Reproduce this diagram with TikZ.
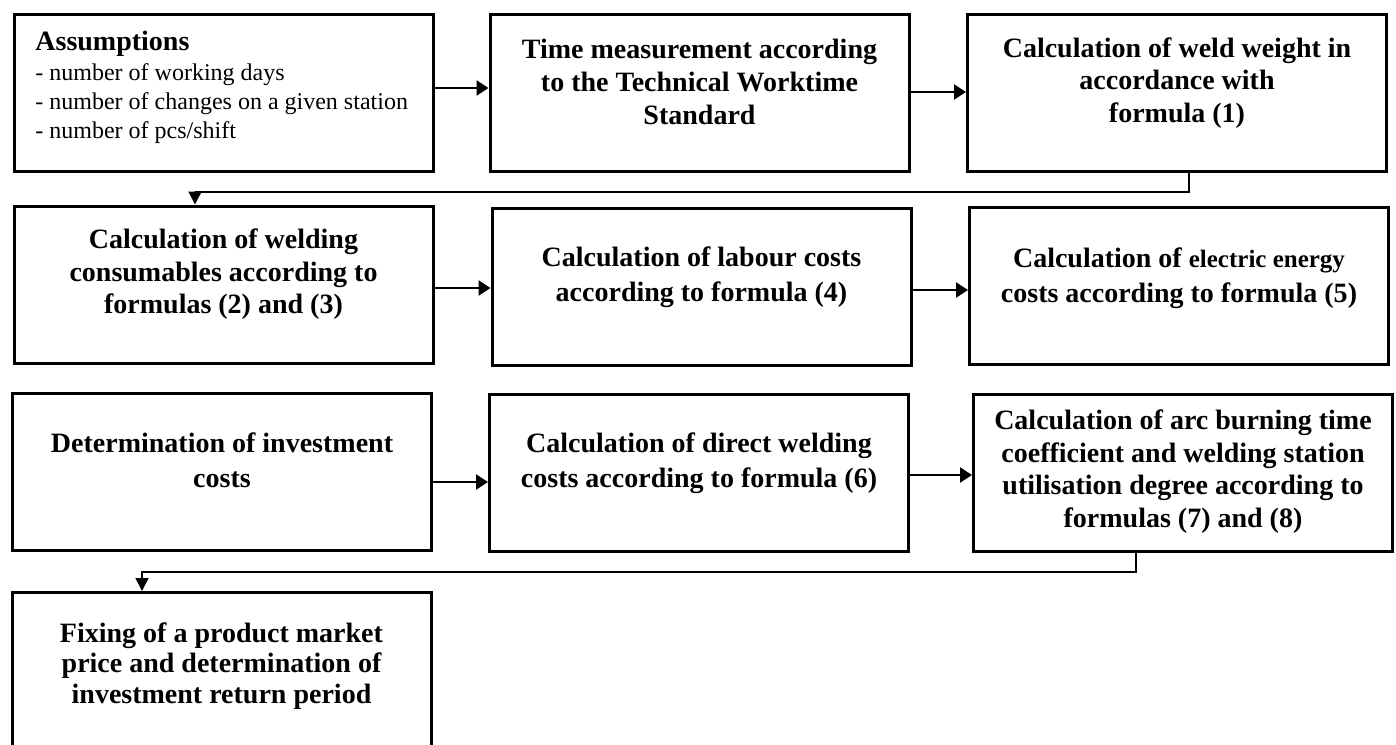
\documentclass[tikz,border=0pt]{standalone}
\usepackage{fontspec}
\setmainfont{Liberation Serif}
\usetikzlibrary{arrows.meta}
\begin{document}
\begin{tikzpicture}[x=0.5pt,y=-0.5pt,
  box/.style={draw, line width=1.5pt, minimum width=209.5pt, minimum height=78.5pt, inner sep=0pt},
  txt/.style={inner sep=0pt, align=center, font=\fontsize{14}{16.3}\selectfont\bfseries},
  txtb/.style={inner sep=0pt, align=center, font=\fontsize{14}{17.5}\selectfont\bfseries},
  arr/.style={line width=1.25pt, -{Triangle[length=6pt,width=7.5pt]}},
  connarr/.style={line width=0.75pt, -{Triangle[length=6.5pt,width=6.5pt]}}]
\fill[white] (0,0) rectangle (1396,744);
\useasboundingbox (0,0) rectangle (1396,744);

% boxes
\node[box] (A) at (223.5,93) {};
\node[box] (B) at (699.5,93) {};
\node[box] (C) at (1177,93) {};
\node[box] (D) at (223.5,284.5) {};
\node[box] (E) at (701.5,287) {};
\node[box] (F) at (1179,285.5) {};
\node[box] (G) at (222,472) {};
\node[box] (H) at (699,473) {};
\node[box] (I) at (1183,473) {};
\node[box] (J) at (221.5,671) {};

% texts
\node[inner sep=0pt, align=left, anchor=west, font=\fontsize{12}{14.5}\selectfont] (At) at (35,87)
  {{\fontsize{14}{16}\selectfont\bfseries Assumptions}\\[0.5pt]- number of working days\\- number of changes on a given station\\- number of pcs/shift};
\node[txt] (Bt) at (699.5,82) {Time measurement according\\to the Technical Worktime\\Standard};
\node[txt] (Ct) at (1177,83) {Calculation of weld weight in\\accordance with\\formula (1)};
\node[txt] (Dt) at (223.5,274.5) {Calculation of welding\\consumables according to\\formulas (2) and (3)};
\node[txtb] (Et) at (701.5,277.5) {Calculation of labour costs\\according to formula (4)};
\node[txtb] (Ft) at (1179,278) {Calculation of {\fontsize{12.5}{17.5}\selectfont electric energy}\\costs according to formula (5)};
\node[txtb] (Gt) at (222,460) {Determination of investment\\costs};
\node[txtb] (Ht) at (699,463.5) {Calculation of direct welding\\costs according to formula (6)};
\node[txt] (It) at (1183,471.5) {Calculation of arc burning time\\coefficient and welding station\\utilisation degree according to\\formulas (7) and (8)};
\node[txt, font=\fontsize{14}{15.3}\selectfont\bfseries] (Jt) at (221.5,666) {Fixing of a product market\\price and determination of\\investment return period};

% horizontal arrows
\draw[arr] ([yshift=2.5pt]A.east) -- ([yshift=2.5pt]A.east -| B.west);
\draw[arr] ([yshift=0.5pt]B.east) -- ([yshift=0.5pt]B.east -| C.west);
\draw[arr] ([yshift=-1.75pt]D.east) -- ([yshift=-1.75pt]D.east -| E.west);
\draw[arr] ([yshift=-1.5pt]E.east) -- ([yshift=-1.5pt]E.east -| F.west);
\draw[arr] ([yshift=-5pt]G.east) -- ([yshift=-5pt]G.east -| H.west);
\draw[arr] ([yshift=-1pt]H.east) -- ([yshift=-1pt]H.east -| I.west);

% row-change connectors
\coordinate (cd1) at (1189,192);
\coordinate (cd2) at (195,192);
\draw[connarr] (cd1 |- C.south) -- (cd1) -- (cd2) -- (cd2 |- D.north);
\coordinate (ij1) at (1136,572);
\coordinate (ij2) at (142,572);
\draw[connarr] (ij1 |- I.south) -- (ij1) -- (ij2) -- (ij2 |- J.north);
\end{tikzpicture}
\end{document}
